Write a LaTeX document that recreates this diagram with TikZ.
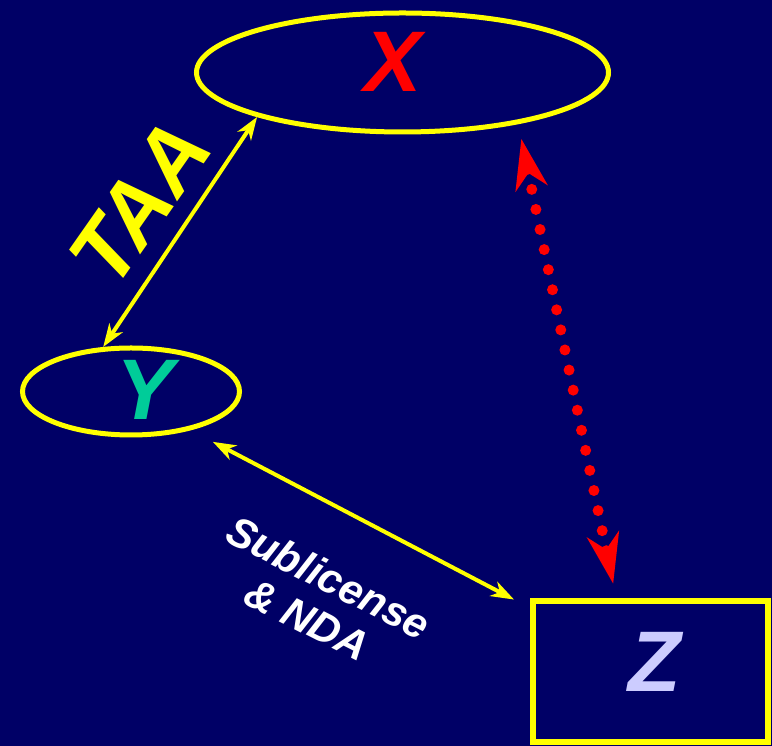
\documentclass[tikz,border=0pt]{standalone}
\usepackage{fontspec}
\setmainfont{Liberation Sans}
\usepackage{tikz}
\usetikzlibrary{positioning,arrows.meta,calc,shapes.geometric}
\definecolor{colFondo}{HTML}{000066}
\definecolor{colMarco}{HTML}{FFFF00}
\definecolor{colRojo}{HTML}{FF0000}
\definecolor{colVerde}{HTML}{00CC99}
\definecolor{colLila}{HTML}{CCCCFF}

\begin{document}
\begin{tikzpicture}[x=1pt, y=1pt,
    letra/.style={font=\fontsize{86}{90}\selectfont\bfseries\itshape, inner sep=0pt},
    parte/.style={draw=colMarco, line width=5pt, inner sep=0pt},
    flecha/.style={colMarco, line width=4pt, {Stealth[length=23pt, width=16pt, inset=7pt]}-{Stealth[length=23pt, width=16pt, inset=7pt]}}]
        % Fondo
        \useasboundingbox (0,0) rectangle (772,746);
        \fill[colFondo] (0,0) rectangle (772,746);

        % Partes
        \node[parte, ellipse, minimum width=412, minimum height=119] (X) at (402.5,673.5) {};
        \node[parte, ellipse, minimum width=217, minimum height=87] (Y) at (131,354.5) {};
        \node[parte, rectangle, line width=6pt, minimum width=235, minimum height=141] (Z) at (650.5,74) {};

        % Letras
        \node[letra, text=colRojo] (Xl) at ([shift={(-9,11)}]X.center) {X};
        \node[letra, text=colVerde] (Yl) at ([shift={(14,2)}]Y.center) {Y};
        \node[letra, text=colLila] (Zl) at ([shift={(4,10)}]Z.center) {Z};

        % Contratos
        \draw[flecha] (Y.122) -- (X.197);
        \draw[flecha, shorten <=25pt, shorten >=18pt] (Y.327) -- (Z.152);
        \draw[colRojo, line width=11pt, line cap=round, dash pattern=on 0pt off 20.5pt,
              shorten <=15pt, shorten >=15pt,
              {Stealth[length=50pt, width=32pt, inset=15pt]}-{Stealth[length=50pt, width=32pt, inset=15pt]}]
              (X.336) -- (Z.115);

        % Etiquetas
        \node[font=\fontsize{88}{92}\selectfont\bfseries\itshape, text=colMarco, rotate=55] (taa) at (140,543) {TAA};
        \node[font=\fontsize{42}{47}\selectfont\bfseries\itshape, text=white, rotate=-27, align=center] (sub) at (318,148) {Sublicense\\\& NDA};
    \end{tikzpicture}
\end{document}
